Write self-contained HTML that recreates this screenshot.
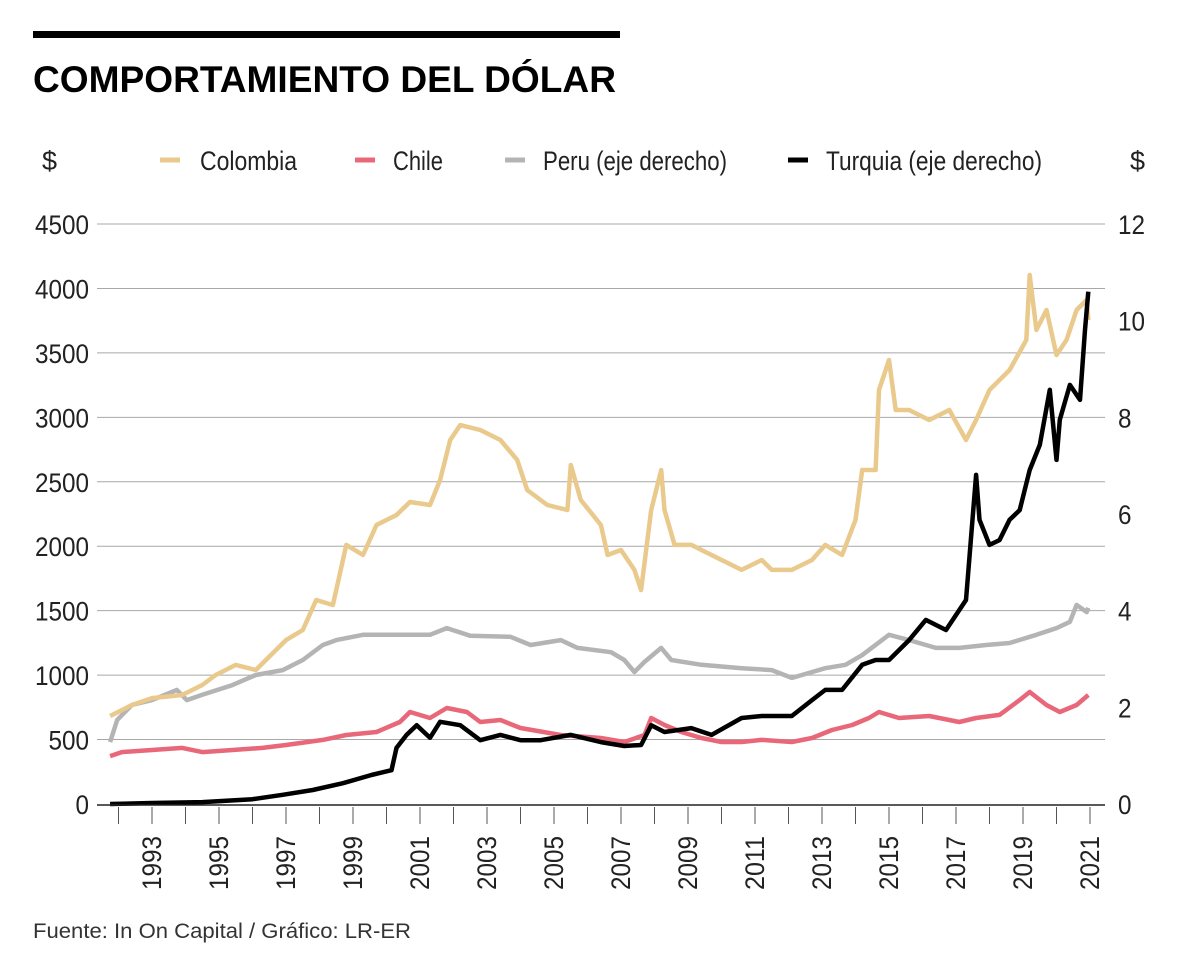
<!DOCTYPE html>
<html><head><meta charset="utf-8"><style>
body{margin:0;background:#fff;}
svg{display:block;}
text{font-family:"Liberation Sans Narrow","Liberation Sans",sans-serif;}
</style></head><body>
<svg id="chart" width="1200" height="972" viewBox="0 0 1200 972">
<rect x="33" y="31" width="587" height="7" fill="#000"/>
<text x="33" y="92" font-size="37" font-weight="bold" fill="#000" style="font-family:'Liberation Sans',sans-serif" textLength="583" lengthAdjust="spacingAndGlyphs">COMPORTAMIENTO DEL DÓLAR</text>
<text x="42" y="170" font-size="27" fill="#222">$</text>
<text x="1130" y="170" font-size="27" fill="#222">$</text>
<g>
 <g><line x1="160" y1="160" x2="180" y2="160" stroke="#e9c98c" stroke-width="5"/><text x="200" y="170" font-size="27" fill="#222" textLength="97" lengthAdjust="spacingAndGlyphs">Colombia</text></g>
 <g><line x1="355" y1="160" x2="375" y2="160" stroke="#e8687a" stroke-width="5"/><text x="393" y="170" font-size="27" fill="#222" textLength="50" lengthAdjust="spacingAndGlyphs">Chile</text></g>
 <g><line x1="505" y1="160" x2="525" y2="160" stroke="#b4b4b4" stroke-width="5"/><text x="543" y="170" font-size="27" fill="#222" textLength="184" lengthAdjust="spacingAndGlyphs">Peru (eje derecho)</text></g>
 <g><line x1="788" y1="160" x2="808" y2="160" stroke="#000" stroke-width="5"/><text x="826" y="170" font-size="27" fill="#222" textLength="216" lengthAdjust="spacingAndGlyphs">Turquia (eje derecho)</text></g>
</g>
<g id="grid"></g><g id="series"></g><g id="axes"></g>
<text x="33" y="938" font-size="21" fill="#333" style="font-family:'Liberation Sans',sans-serif" textLength="378" lengthAdjust="spacingAndGlyphs">Fuente: In On Capital / Gráfico: LR-ER</text>
</svg>
<script>
const leftTicks=[0,500,1000,1500,2000,2500,3000,3500,4000,4500];
const rightTicks=[0,2,4,6,8,10,12];
const yearLabels=[1993,1995,1997,1999,2001,2003,2005,2007,2009,2011,2013,2015,2017,2019,2021];
const colYears=[1991.75,1992.4,1993,1993.9,1994.5,1994.9,1995.5,1996.1,1996.4,1997.0,1997.5,1997.9,1998.4,1998.8,1999.3,1999.7,2000.3,2000.7,2001.3,2001.6,2001.9,2002.2,2002.8,2003.4,2003.9,2004.2,2004.8,2005.4,2005.5,2005.8,2006.4,2006.6,2007.0,2007.4,2007.6,2007.9,2008.2,2008.3,2008.6,2009.1,2009.7,2010.6,2011.2,2011.5,2012.1,2012.7,2013.1,2013.6,2014.0,2014.2,2014.6,2014.7,2015.0,2015.2,2015.6,2016.2,2016.8,2017.3,2017.6,2018.0,2018.6,2019.1,2019.2,2019.4,2019.7,2020.0,2020.3,2020.6,2020.9,2020.95];
const colValues=[683,768,822,846,923,1001,1079,1040,1117,1272,1350,1583,1544,2010,1932,2165,2242,2343,2320,2514,2824,2940,2902,2824,2669,2436,2320,2281,2630,2359,2165,1932,1971,1816,1660,2281,2591,2281,2010,2010,1932,1816,1893,1816,1816,1893,2010,1932,2204,2591,2591,3212,3445,3057,3057,2979,3057,2824,2979,3212,3367,3600,4104,3678,3833,3484,3600,3833,3911,3755];
const chiYears=[1991.75,1992.1,1993,1993.9,1994.5,1995.4,1996.3,1997.0,1998.1,1998.8,1999.7,2000.4,2000.7,2001.3,2001.8,2002.4,2002.8,2003.4,2004.0,2005.2,2006.4,2007.1,2007.7,2007.9,2008.3,2008.8,2009.4,2010.0,2010.6,2011.2,2012.1,2012.7,2013.3,2013.9,2014.4,2014.7,2015.3,2016.2,2017.1,2017.6,2018.3,2018.9,2019.2,2019.7,2020.1,2020.6,2020.95];
const chiValues=[372,403,419,435,403,419,435,458,497,535,559,636,714,667,745,714,636,652,590,535,512,481,535,667,613,559,512,481,481,497,481,512,574,613,667,714,667,683,636,667,691,807,869,768,714,768,846];
const perYears=[1991.75,1991.96,1992.4,1993,1993.74,1994.04,1994.5,1995.4,1996.1,1996.9,1997.5,1998.1,1998.5,1999.3,2000.4,2001.3,2001.8,2002.5,2003.7,2004.3,2005.2,2005.7,2006.7,2007.1,2007.4,2007.7,2008.2,2008.5,2009.4,2010.6,2011.5,2012.1,2012.4,2013.1,2013.7,2014.2,2015.0,2015.6,2016.4,2017.1,2017.9,2018.6,2019.4,2020.0,2020.4,2020.6,2020.9,2020.95];
const perValues=[1.28,1.74,2.05,2.15,2.36,2.15,2.26,2.46,2.67,2.77,2.98,3.29,3.39,3.50,3.50,3.50,3.64,3.48,3.46,3.29,3.39,3.23,3.14,2.98,2.73,2.94,3.23,2.98,2.88,2.81,2.77,2.61,2.67,2.81,2.88,3.08,3.50,3.39,3.23,3.23,3.29,3.33,3.50,3.64,3.77,4.12,3.97,4.06];
const turYears=[1991.75,1993,1994.5,1996.0,1996.9,1997.8,1998.7,1999.55,2000.15,2000.3,2000.6,2000.9,2001.3,2001.6,2002.2,2002.8,2003.4,2004.0,2004.6,2005.5,2006.4,2007.1,2007.6,2007.9,2008.3,2009.1,2009.7,2010.6,2011.2,2012.1,2012.7,2013.1,2013.6,2014.2,2014.6,2015.0,2015.6,2016.1,2016.7,2017.3,2017.6,2017.7,2018.0,2018.3,2018.6,2018.9,2019.2,2019.5,2019.8,2020.0,2020.1,2020.4,2020.7,2020.85,2020.95];
const turValues=[0,0.02,0.04,0.10,0.19,0.29,0.43,0.60,0.70,1.16,1.43,1.63,1.37,1.70,1.63,1.32,1.43,1.32,1.32,1.43,1.28,1.20,1.22,1.63,1.49,1.57,1.43,1.78,1.82,1.82,2.15,2.36,2.36,2.88,2.98,2.98,3.39,3.81,3.60,4.22,6.81,5.88,5.36,5.46,5.88,6.08,6.91,7.43,8.57,7.12,7.95,8.67,8.36,9.81,10.6];

const NS='http://www.w3.org/2000/svg';
const X0=97,X1=1105,Y0=804,Y1=224;
function xScale(yr){return 152+(yr-1993)*33.5;}
function yLeft(v){return Y0-(v/4500)*(Y0-Y1);}
function yRight(v){return Y0-(v/12)*(Y0-Y1);}
function mk(tag,attrs,parent){const e=document.createElementNS(NS,tag);for(const k in attrs)e.setAttribute(k,attrs[k]);parent.appendChild(e);return e;}
const grid=document.getElementById('grid'),axes=document.getElementById('axes'),series=document.getElementById('series');
leftTicks.forEach(v=>{
  if(v>0){const g=mk('line',{x1:X0,x2:X1,y1:yLeft(v),y2:yLeft(v),stroke:'#a8a8a8','stroke-width':1},grid);
  
  }
  const len=String(v).length*13.5;
  const t=mk('text',{x:89,y:yLeft(v)+10,'text-anchor':'end','font-size':27,fill:'#222',textLength:len,lengthAdjust:'spacingAndGlyphs'},axes);t.textContent=v;
  
  
});
rightTicks.forEach(v=>{
  const t=mk('text',{x:1118,y:yRight(v)+10,'font-size':27,fill:'#222',textLength:String(v).length*13.5,lengthAdjust:'spacingAndGlyphs'},axes);t.textContent=v;
  
  
});
const base=mk('line',{x1:X0,x2:X1,y1:Y0+1,y2:Y0+1,stroke:'#222','stroke-width':1.5},axes);


for(let yr=1992;yr<=2021;yr++){
  const tk=mk('line',{x1:xScale(yr),x2:xScale(yr),y1:Y0+3,y2:Y0+20,stroke:'#555','stroke-width':1},axes);
  
  
}
yearLabels.forEach(yr=>{
  const x=xScale(yr)+9,y=836;
  const t=mk('text',{x:x,y:y,'text-anchor':'end','font-size':27,fill:'#222',textLength:54,lengthAdjust:'spacingAndGlyphs',transform:`rotate(-90 ${x} ${y})`},axes);t.textContent=yr;
  
  
});
function line(years,vals,ys,color,name,w){
  const pts=years.map((yr,i)=>xScale(yr).toFixed(1)+','+ys(vals[i]).toFixed(1)).join(' ');
  const p=mk('polyline',{points:pts,fill:'none',stroke:color,'stroke-width':w,'stroke-linejoin':'round'},series);
  
  
}
line(perYears,perValues,yRight,'#b4b4b4','series-peru',4.5);
line(colYears,colValues,yLeft,'#e9c98c','series-colombia',4.5);
line(chiYears,chiValues,yLeft,'#e8687a','series-chile',4.5);
line(turYears,turValues,yRight,'#000','series-turquia',4.5);
</script>
</body></html>
